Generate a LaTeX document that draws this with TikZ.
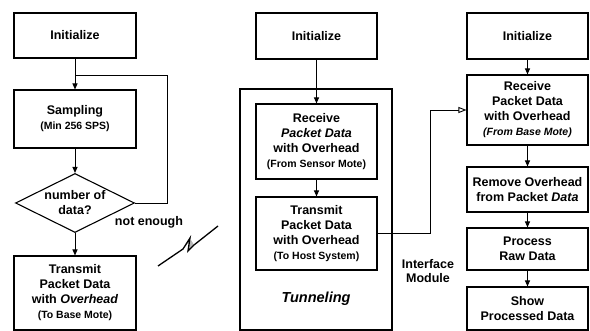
\documentclass[tikz,border=0pt]{standalone}
\usepackage{fontspec}
\setmainfont{Liberation Sans}
\usetikzlibrary{arrows.meta,shapes.geometric}

% smaller parenthesised sub-line inside a box
\newcommand\subline[1]{{\fontsize{10.5}{12}\selectfont #1}}

\begin{document}
\begin{tikzpicture}[x=1pt,y=-1pt,
  box/.style={draw, line width=1.1pt, rectangle, minimum width=121pt,
    inner sep=0pt, align=center, font=\bfseries\fontsize{12.5}{15}\selectfont},
  lbl/.style={inner sep=0pt, align=center, font=\bfseries\fontsize{12.5}{14}\selectfont},
  arr/.style={line width=1pt, -{Triangle[length=6pt,width=5pt]}},
  link/.style={line width=0.9pt},
  openarr/.style={line width=0.9pt, -{Triangle[open,length=8pt,width=6pt,fill=white]}}
]
\useasboundingbox (0,0) rectangle (590,331);

% ---------- sensor mote ----------
\node[box, minimum width=122pt, minimum height=45pt] (linit) at (75,35.5) {Initialize};
\node[box, minimum width=122pt, minimum height=58pt] (lsamp) at (75,119)
  {Sampling\\\subline{(Min 256 SPS)}};
\node[diamond, draw, line width=1.1pt, shape aspect=2, minimum width=119pt,
  minimum height=59pt, inner sep=0pt, align=center,
  font=\bfseries\fontsize{12.5}{15}\selectfont] (ldia) at (75,203) {number of\\data?};
\node[box, minimum width=122pt, minimum height=74pt] (ltx) at (75,293)
  {Transmit\\Packet Data\\with \textit{Overhead}\\\subline{(To Base Mote)}};
\node[lbl] (notenough) at (149,222) {not enough};

\coordinate (ljoin) at (75,75);
\draw[arr] (linit.south) -- (lsamp.north);
\draw[arr] (lsamp.south) -- (ldia.north);
\draw[arr] (ldia.south) -- (ltx.north);
\draw[link] (ldia.east) -- ++(32,0) |- (ljoin);

% ---------- wireless link (lightning bolt) ----------
\fill[gray!55] (183,249) -- (190,238) -- (188,251) -- (194,245) -- (191,240) -- cycle;
\draw[line width=1.3pt, line join=miter] (158,266) -- (183,249) -- (190,238)
  -- (188,251) -- (194,245) -- (218,226);

% ---------- base mote ----------
\node[box, minimum height=46pt] (minit) at (316.5,36) {Initialize};
\node[draw, line width=1.1pt, minimum width=152pt, minimum height=241pt,
  inner sep=0pt] (tunnel) at (316,209.5) {};
\node[box, minimum height=75pt] (mrx) at (316.5,141.5)
  {Receive\\\textit{Packet Data}\\with Overhead\\\subline{(From Sensor Mote)}};
\node[box, minimum height=73pt] (mtx) at (316.5,233.5)
  {Transmit\\Packet Data\\with Overhead\\\subline{(To Host System)}};
\node[inner sep=0pt, font=\bfseries\itshape\fontsize{14.5}{17}\selectfont]
  (tunlabel) at (316,299) {Tunneling};

\draw[arr] (minit.south) -- (mrx.north);
\draw[arr] (mrx.south) -- (mtx.north);

% ---------- host system ----------
\node[box, minimum height=46pt] (rinit) at (527.5,36) {Initialize};
\node[box, minimum height=70pt] (rrx) at (527.5,110)
  {Receive\\Packet Data\\with Overhead\\\subline{\itshape(From Base Mote)}};
\node[box, minimum height=45pt] (rrm) at (527.5,189.5)
  {Remove Overhead\\from Packet \textit{Data}};
\node[box, minimum height=42pt] (rpr) at (527.5,249) {Process\\Raw Data};
\node[box, minimum height=43pt] (rsh) at (527.5,308.5) {Show\\Processed Data};
\node[lbl] (iface) at (428,271) {Interface\\Module};

\draw[arr] (rinit.south) -- (rrx.north);
\draw[arr] (rrx.south) -- (rrm.north);
\draw[arr] (rrm.south) -- (rpr.north);
\draw[arr] (rpr.south) -- (rsh.north);
\draw[openarr] (mtx.east) -- ++(53,0) |- (rrx.west);
\end{tikzpicture}
\end{document}
